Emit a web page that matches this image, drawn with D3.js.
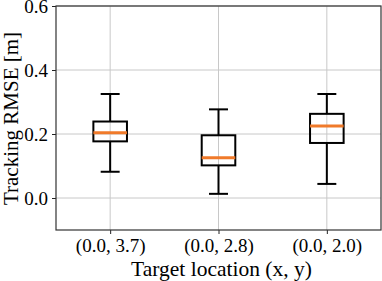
<!DOCTYPE html>
<html>
<head>
<meta charset="utf-8">
<script src="https://cdn.jsdelivr.net/npm/d3@7"></script>
<style>
  body { margin: 0; background: #fff; }
  text { font-family: "Liberation Serif", "DejaVu Serif", serif; }
</style>
</head>
<body>
<div id="chart"></div>
<script>
// box stats
const locations = ["(0.0, 3.7)", "(0.0, 2.8)", "(0.0, 2.0)"];
const whiskLo = [0.082, 0.013, 0.044];
const q1 = [0.177, 0.102, 0.172];
const medians = [0.204, 0.126, 0.225];
const q3 = [0.239, 0.196, 0.263];
const whiskHi = [0.325, 0.277, 0.325];
const yTicks = [0.0, 0.2, 0.4, 0.6];

const w = 382, h = 281;
const margin = {top: 6, right: 1, bottom: 51, left: 56};

const svg = d3.select("#chart").append("svg")
    .attr("width", w)
    .attr("height", h);

const x = d3.scaleLinear().domain([0.5, 3.5]).range([margin.left, w - margin.right]);
const y = d3.scaleLinear().domain([-0.1, 0.6]).range([h - margin.bottom, margin.top]);

const boxes = locations.map((loc, i) => ({
    loc, pos: i + 1,
    lo: whiskLo[i], q1: q1[i], med: medians[i], q3: q3[i], hi: whiskHi[i]
}));

// grid
svg.append("g").selectAll("line.gy")
    .data(yTicks).enter().append("line")
    .attr("x1", margin.left).attr("x2", w - margin.right)
    .attr("y1", d => y(d)).attr("y2", d => y(d))
    .attr("stroke", "#c8c8c8").attr("stroke-width", 1);
svg.append("g").selectAll("line.gx")
    .data(boxes).enter().append("line")
    .attr("x1", d => x(d.pos)).attr("x2", d => x(d.pos))
    .attr("y1", margin.top).attr("y2", h - margin.bottom)
    .attr("stroke", "#c8c8c8").attr("stroke-width", 1);

// axes
const yAxis = svg.append("g")
    .attr("transform", `translate(${margin.left},0)`)
    .call(d3.axisLeft(y).tickValues(yTicks).tickFormat(d3.format(".1f")).tickSize(4).tickPadding(4));
const xAxis = svg.append("g")
    .attr("transform", `translate(0,${h - margin.bottom})`)
    .call(d3.axisBottom(x).tickValues([1, 2, 3]).tickFormat((d, i) => locations[i]).tickSize(4).tickPadding(5));
[yAxis, xAxis].forEach(a => {
    a.select(".domain").remove();
    a.selectAll("text").attr("font-size", 19).attr("fill", "#000")
        .style("font-family", '"Liberation Serif", serif');
    a.selectAll("line").attr("stroke", "#222");
});

// frame
svg.append("rect")
    .attr("x", margin.left).attr("y", margin.top)
    .attr("width", w - margin.right - margin.left)
    .attr("height", h - margin.bottom - margin.top)
    .attr("fill", "none").attr("stroke", "#333").attr("stroke-width", 1.2);

// boxes
const bw = x(1.31) - x(1);
const cw = x(1.175) - x(1);
const g = svg.selectAll("g.box").data(boxes).enter().append("g").attr("class", "box");

g.append("line")
    .attr("x1", d => x(d.pos)).attr("x2", d => x(d.pos))
    .attr("y1", d => y(d.hi)).attr("y2", d => y(d.q3))
    .attr("stroke", "#000").attr("stroke-width", 2);
g.append("line")
    .attr("x1", d => x(d.pos)).attr("x2", d => x(d.pos))
    .attr("y1", d => y(d.q1)).attr("y2", d => y(d.lo))
    .attr("stroke", "#000").attr("stroke-width", 2);
g.append("line")
    .attr("x1", d => x(d.pos) - cw / 2).attr("x2", d => x(d.pos) + cw / 2)
    .attr("y1", d => y(d.hi)).attr("y2", d => y(d.hi))
    .attr("stroke", "#000").attr("stroke-width", 2);
g.append("line")
    .attr("x1", d => x(d.pos) - cw / 2).attr("x2", d => x(d.pos) + cw / 2)
    .attr("y1", d => y(d.lo)).attr("y2", d => y(d.lo))
    .attr("stroke", "#000").attr("stroke-width", 2);
g.append("rect")
    .attr("x", d => x(d.pos) - bw / 2).attr("width", bw)
    .attr("y", d => y(d.q3)).attr("height", d => y(d.q1) - y(d.q3))
    .attr("fill", "none").attr("stroke", "#000").attr("stroke-width", 2);
g.append("line")
    .attr("x1", d => x(d.pos) - bw / 2).attr("x2", d => x(d.pos) + bw / 2)
    .attr("y1", d => y(d.med)).attr("y2", d => y(d.med))
    .attr("stroke", "#f07a2a").attr("stroke-width", 3);

// labels
svg.append("text")
    .attr("x", (margin.left + w - margin.right) / 2 + 3)
    .attr("y", 276)
    .attr("text-anchor", "middle")
    .attr("font-size", 21.5)
    .text("Target location (x, y)");
svg.append("text")
    .attr("transform", `translate(17.5,${(margin.top + h - margin.bottom) / 2 + 0.5}) rotate(-90)`)
    .attr("text-anchor", "middle")
    .attr("font-size", 21)
    .text("Tracking RMSE [m]");
</script>
</body>
</html>
